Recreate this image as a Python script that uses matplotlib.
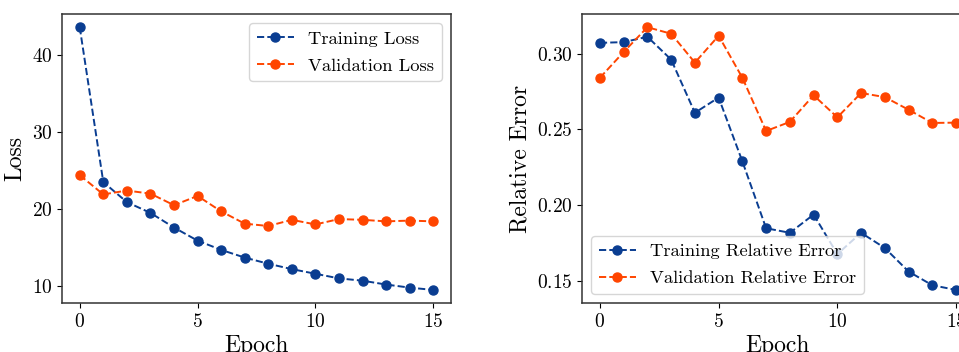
import matplotlib
matplotlib.use("Agg")
import matplotlib.pyplot as plt

# datos
epocas = list(range(16))
train_loss = [43.6, 23.5, 20.9, 19.5, 17.6, 15.9, 14.7, 13.7, 12.9, 12.2, 11.6, 11.0, 10.7, 10.2, 9.8, 9.5]
val_loss = [24.4, 21.9, 22.4, 22.0, 20.5, 21.7, 19.7, 18.1, 17.8, 18.6, 18.0, 18.7, 18.6, 18.4, 18.5, 18.4]
train_err = [0.307, 0.3075, 0.311, 0.296, 0.261, 0.271, 0.229, 0.185, 0.182, 0.194,
             0.168, 0.182, 0.172, 0.1565, 0.1475, 0.1444]
val_err = [0.284, 0.301, 0.3173, 0.313, 0.294, 0.3117, 0.284, 0.249, 0.255, 0.2725,
           0.258, 0.274, 0.2713, 0.263, 0.2543, 0.2545]

azul = "#0a3d91"
naranjo = "#ff4500"

plt.rcParams["font.family"] = "cmr10"
plt.rcParams["mathtext.fontset"] = "cm"
plt.rcParams["axes.formatter.use_mathtext"] = True

fig = plt.figure(figsize=(9.59, 3.52), dpi=100)
ax1 = fig.add_axes([0.0647, 0.139, 0.4055, 0.821])
ax2 = fig.add_axes([0.607, 0.139, 0.4085, 0.821])

# grafico de la perdida
ax1.plot(epocas, train_loss, "o--", color=azul, markersize=6.5, linewidth=1.4, label="Training Loss")
ax1.plot(epocas, val_loss, "o--", color=naranjo, markersize=6.5, linewidth=1.4, label="Validation Loss")
ax1.set_xlabel("Epoch", fontsize=17, labelpad=3)
ax1.set_ylabel("Loss", fontsize=17)
ax1.set_xticks([0, 5, 10, 15])
ax1.set_yticks([10, 20, 30, 40])
ax1.legend(loc="upper right", fontsize=13.3, labelspacing=0.6)

# grafico del error relativo
ax2.plot(epocas, train_err, "o--", color=azul, markersize=6.5, linewidth=1.4, label="Training Relative Error")
ax2.plot(epocas, val_err, "o--", color=naranjo, markersize=6.5, linewidth=1.4, label="Validation Relative Error")
ax2.set_xlabel("Epoch", fontsize=17, labelpad=3)
ax2.set_ylabel("Relative Error", fontsize=17)
ax2.set_xticks([0, 5, 10, 15])
ax2.set_yticks([0.15, 0.20, 0.25, 0.30])
ax2.legend(loc="lower left", fontsize=13.3, labelspacing=0.6)

for ax in (ax1, ax2):
    ax.tick_params(labelsize=14)
    for s in ax.spines.values():
        s.set_color("#333333")
        s.set_linewidth(1.1)

fig.savefig("out.png", dpi=100)
